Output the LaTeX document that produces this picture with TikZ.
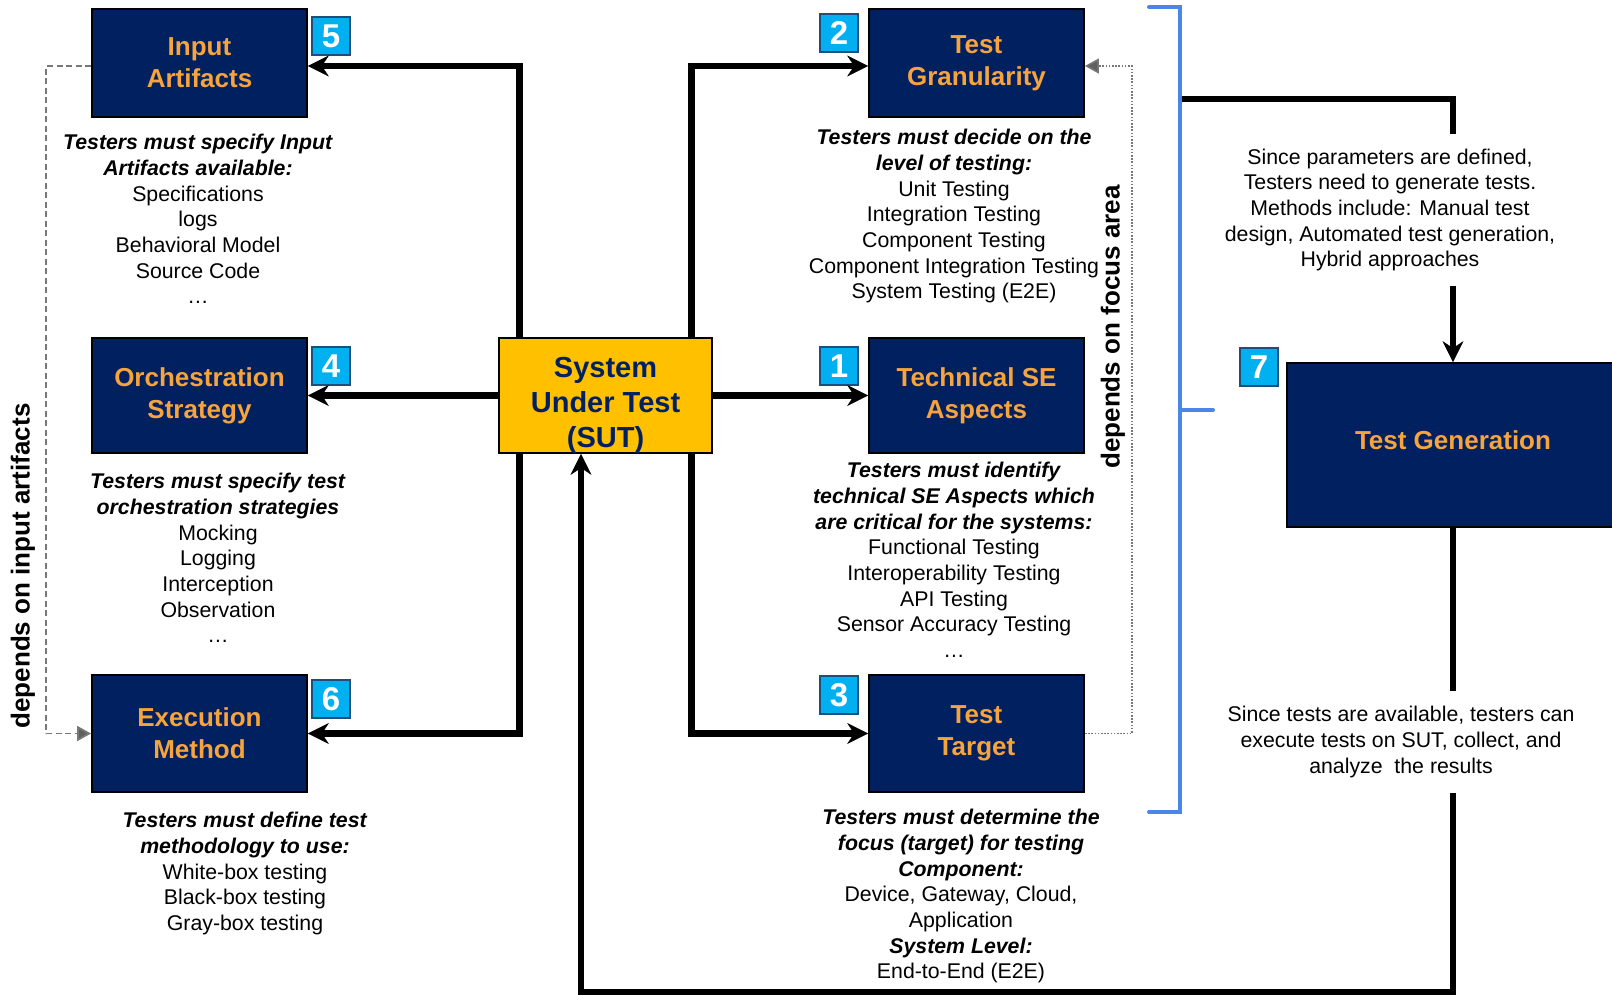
\documentclass[tikz,border=0pt]{standalone}
\usepackage{fontspec}
\setmainfont{Liberation Sans}
\usetikzlibrary{arrows.meta}
\definecolor{navy}{RGB}{0,32,96}
\definecolor{titleorange}{RGB}{247,164,60}
\definecolor{sutgold}{RGB}{255,192,0}
\definecolor{badgecyan}{RGB}{0,176,240}
\definecolor{badgeedge}{RGB}{31,78,121}
\definecolor{bracketblue}{RGB}{74,134,232}
\definecolor{depgray}{RGB}{120,120,120}
\newcommand{\bfit}[1]{\textbf{\textit{#1}}}

\begin{document}
\begin{tikzpicture}[x=1pt, y=-1pt,
  box/.style={draw, line width=1.8pt, fill=navy, text=titleorange, align=center,
    minimum width=215pt, inner sep=0pt, font=\fontsize{26}{32}\selectfont\bfseries},
  badge/.style={draw=badgeedge, line width=1.6pt, fill=badgecyan, text=white,
    minimum size=38pt, inner sep=0pt, font=\fontsize{33}{33}\selectfont\bfseries},
  note/.style={align=center, anchor=north, inner sep=0pt, font=\fontsize{21.3}{25.7}\selectfont},
  remark/.style={align=center, font=\fontsize{21.3}{25.7}\selectfont},
  line/.style={line width=6.5pt},
  arr/.style={line width=6.5pt, -{Stealth[length=21pt, width=21pt, inset=7pt, line width=0.5pt]}},
  dep/.style={draw=depgray, line width=1.8pt, -{Triangle[length=14pt, width=15pt, fill=depgray!80!black]}},
  bracket/.style={draw=bracketblue, line width=4pt, line cap=round}]
\path[use as bounding box, fill=white] (0,0) rectangle (1612,994);

% left column
\node[box, minimum height=108pt] (inp) at (199.5,63) {Input\\Artifacts};
\node[box, minimum height=115pt] (orch) at (199.5,395.5) {Orchestration\\Strategy};
\node[box, minimum height=117pt] (exec) at (199.5,733.5) {Execution\\Method};
\node[badge] (b5) at (331,36) {5};
\node[badge] (b4) at (331,366) {4};
\node[badge] (b6) at (331,699) {6};
\node[note] (inpnote) at (198,134) {\bfit{Testers must specify Input}\\\bfit{Artifacts available:}\\
  Specifications\\logs\\Behavioral Model\\Source Code\\…};
\node[note] (orchnote) at (218,473) {\bfit{Testers must specify test}\\\bfit{orchestration strategies}\\
  Mocking\\Logging\\Interception\\Observation\\…};
\node[note] (execnote) at (245,812) {\bfit{Testers must define test}\\\bfit{methodology to use:}\\
  White-box testing\\Black-box testing\\Gray-box testing};

% system under test
\node[draw, line width=1.8pt, fill=sutgold, minimum width=213pt, minimum height=115pt] (sut) at (605.5,395.5) {};
\node[align=center, text=navy, inner sep=0pt, font=\fontsize{29}{35}\selectfont\bfseries] (sutlabel)
  at (605.5,405) {System\\Under Test\\(SUT)};

% right column
\node[box, minimum height=108pt] (gran) at (976.5,63) {Test\\Granularity};
\node[box, minimum height=115pt] (tech) at (976.5,395.5) {Technical SE\\Aspects};
\node[box, minimum height=117pt] (targ) at (976.5,733.5) {Test\\Target};
\node[badge] (b2) at (839,33) {2};
\node[badge] (b1) at (839,366) {1};
\node[badge] (b3) at (839,695) {3};
\node[note] (grannote) at (954,129) {\bfit{Testers must decide on the}\\\bfit{level of testing:}\\
  Unit Testing\\Integration Testing\\Component Testing\\Component Integration Testing\\System Testing (E2E)};
\node[note] (technote) at (954,462) {\bfit{Testers must identify}\\\bfit{technical SE Aspects which}\\
  \bfit{are critical for the systems:}\\Functional Testing\\Interoperability Testing\\API Testing\\
  Sensor Accuracy Testing\\…};
\node[note] (targnote) at (961,809) {\bfit{Testers must determine the}\\\bfit{focus (target) for testing}\\
  \bfit{Component:}\\Device, Gateway, Cloud,\\Application\\\bfit{System Level:}\\End-to-End (E2E)};

% test generation
\node[box, minimum width=332pt, minimum height=164pt, text depth=10pt] (gen) at (1453,445) {Test Generation};
\node[badge] (b7) at (1259,367) {7};
\node[remark, inner sep=14pt] (partext) at (1390,210) {Since parameters are defined,\\Testers need to generate tests.\\
  Methods include: Manual test\\design, Automated test generation,\\Hybrid approaches};
\node[remark, inner sep=15pt] (runtext) at (1401,742) {Since tests are available, testers can\\
  execute tests on SUT, collect, and\\analyze\ \ the results};

% dependency labels
\node[rotate=90, font=\fontsize{26}{26}\selectfont\bfseries] (depinp) at (23,566) {depends on input artifacts};
\node[rotate=90, font=\fontsize{26}{26}\selectfont\bfseries] (depfocus) at (1113,327) {depends on focus area};

% arrows from the SUT
\draw[arr] ([xshift=-86pt]sut.north) |- ([yshift=-3pt]inp.east);
\draw[arr] (sut.west) -- (orch.east);
\draw[arr] ([xshift=-86pt]sut.south) |- (exec.east);
\draw[arr] ([xshift=86pt]sut.north) |- ([yshift=-3pt]gran.west);
\draw[arr] (sut.east) -- (tech.west);
\draw[arr] ([xshift=86pt]sut.south) |- (targ.west);

% dependencies
\draw[dep, dash pattern=on 6pt off 3.5pt] ([yshift=-3pt]inp.west) -- ++(-45,0) |- (exec.west);
\draw[dep, line width=1.5pt, dash pattern=on 1.6pt off 1.6pt] (targ.east) -- ++(47,0) |- ([yshift=-3pt]gran.east);

% bracket and flow to test generation
\coordinate (brtop) at (1180,7);
\coordinate (brbot) at (1180,812);
\coordinate (brk) at (1182,99);
\draw[bracket] ([xshift=-31pt]brtop) -- (brtop) -- (brbot) -- ([xshift=-31pt]brbot);
\draw[bracket] (1180,410) -- (1213,410);
\draw[line] (brk) -| (gen.north |- partext.north);
\draw[arr] (gen.north |- partext.south) -- (gen.north);

% feedback to the SUT
\coordinate (fb) at (581,992);
\draw[line] (gen.south) -- (gen.south |- runtext.north);
\draw[arr] (gen.south |- runtext.south) |- (fb) -- (fb |- sut.south);
\end{tikzpicture}
\end{document}
